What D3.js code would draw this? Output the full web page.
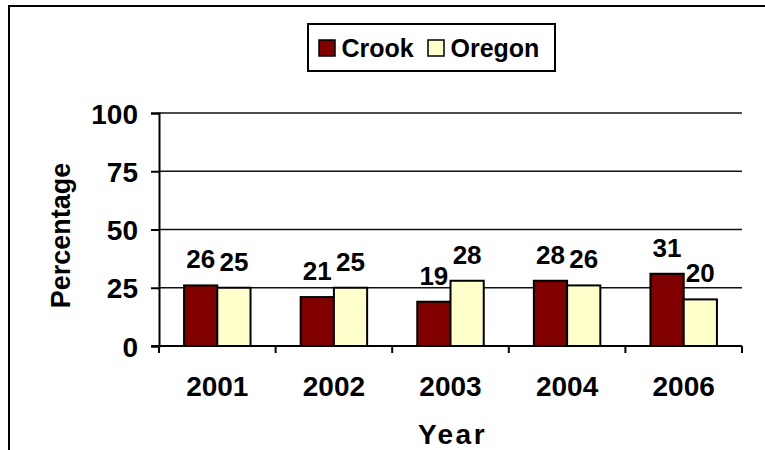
<!DOCTYPE html>
<html>
<head>
<meta charset="utf-8">
<script src="https://cdn.jsdelivr.net/npm/d3@7"></script>
<style>
  body { margin: 0; background: #fff; }
  svg text { font-family: "Liberation Sans", Arial, sans-serif; font-weight: bold; fill: #000; }
</style>
</head>
<body>
<div class="chart"></div>
<script>
const years = ["2001", "2002", "2003", "2004", "2006"];
const series = ["Crook", "Oregon"];
const crook = [26, 21, 19, 28, 31];
const oregon = [25, 25, 28, 26, 20];
const yTicks = [0, 25, 50, 75, 100];
const colors = ["#800000", "#ffffcc"];

const width = 765;
const height = 450;
const plotLeft = 159, plotRight = 742, plotTop = 113, plotBottom = 346;

const svg = d3.select(".chart")
  .append("svg")
  .attr("width", width)
  .attr("height", height);

// outer frame (top and left edges visible)
svg.append("path")
  .attr("d", "M9,450 V6 H765")
  .attr("fill", "none")
  .attr("stroke", "#000")
  .attr("stroke-width", 2);

const x0 = d3.scaleBand()
  .domain(years)
  .range([plotLeft, plotRight])
  .paddingInner(0.43)
  .paddingOuter(0.215);

const x1 = d3.scaleBand()
  .domain(series)
  .range([0, x0.bandwidth()]);

const y = d3.scaleLinear()
  .domain([0, 100])
  .range([plotBottom, plotTop]);

// gridlines
svg.selectAll("line.grid")
  .data(yTicks.filter(d => d > 0))
  .enter()
  .append("line")
  .attr("class", "grid")
  .attr("x1", plotLeft)
  .attr("x2", plotRight)
  .attr("y1", d => y(d))
  .attr("y2", d => y(d))
  .attr("stroke", "#111")
  .attr("stroke-width", 1.6);

// y axis
const yAxis = svg.append("g")
  .attr("transform", `translate(${plotLeft},0)`)
  .call(d3.axisLeft(y).tickValues(yTicks).tickSize(8).tickPadding(13));
yAxis.select(".domain").attr("stroke", "#000").attr("stroke-width", 2);
yAxis.selectAll(".tick line").attr("stroke", "#000").attr("stroke-width", 2);
yAxis.selectAll(".tick text")
  .style("font-size", "28px")
  .style("font-family", "Liberation Sans, Arial, sans-serif")
  .style("font-weight", "bold")
  .attr("fill", "#000")
  .attr("dy", "0.36em");

// x axis line and category boundary ticks
const step = x0.step();
const bounds = d3.range(years.length + 1).map(i => plotLeft + i * step);
svg.append("line")
  .attr("x1", plotLeft - 8)
  .attr("x2", plotRight)
  .attr("y1", plotBottom)
  .attr("y2", plotBottom)
  .attr("stroke", "#000")
  .attr("stroke-width", 2);
svg.selectAll("line.xtick")
  .data(bounds)
  .enter()
  .append("line")
  .attr("class", "xtick")
  .attr("x1", d => d)
  .attr("x2", d => d)
  .attr("y1", plotBottom)
  .attr("y2", plotBottom + 7)
  .attr("stroke", "#000")
  .attr("stroke-width", 2);

svg.selectAll("text.xlab")
  .data(years)
  .enter()
  .append("text")
  .attr("class", "xlab")
  .attr("x", d => x0(d) + x0.bandwidth() / 2)
  .attr("y", 396)
  .attr("text-anchor", "middle")
  .style("font-size", "28px")
  .text(d => d);

// bars
const rows = years.map((yr, i) => ({ year: yr, values: [crook[i], oregon[i]] }));

const groups = svg.selectAll("g.group")
  .data(rows)
  .enter()
  .append("g")
  .attr("class", "group")
  .attr("transform", d => `translate(${x0(d.year)},0)`);

groups.selectAll("rect")
  .data(d => d.values.map((v, j) => ({ key: series[j], value: v, j: j })))
  .enter()
  .append("rect")
  .attr("x", d => x1(d.key))
  .attr("y", d => y(d.value))
  .attr("width", x1.bandwidth())
  .attr("height", d => plotBottom - y(d.value))
  .attr("fill", d => colors[d.j])
  .attr("stroke", "#000")
  .attr("stroke-width", 2);

groups.selectAll("text")
  .data(d => d.values.map((v, j) => ({ key: series[j], value: v })))
  .enter()
  .append("text")
  .attr("x", d => x1(d.key) + x1.bandwidth() / 2)
  .attr("y", d => y(d.value) - 17)
  .attr("text-anchor", "middle")
  .style("font-size", "26px")
  .text(d => d.value);

// axis titles
svg.append("text")
  .attr("transform", `translate(70,${(plotTop + plotBottom) / 2 + 6}) rotate(-90)`)
  .attr("text-anchor", "middle")
  .style("font-size", "27px")
  .text("Percentage");

svg.append("text")
  .attr("x", (plotLeft + plotRight) / 2 + 2)
  .attr("y", 444)
  .attr("text-anchor", "middle")
  .style("font-size", "28px")
  .style("letter-spacing", "2.5px")
  .text("Year");

// legend
const legend = svg.append("g");
legend.append("rect")
  .attr("x", 308)
  .attr("y", 24)
  .attr("width", 247)
  .attr("height", 47)
  .attr("fill", "#fff")
  .attr("stroke", "#000")
  .attr("stroke-width", 2);

const legendX = [319, 428];
legend.selectAll("rect.sw")
  .data(series)
  .enter()
  .append("rect")
  .attr("class", "sw")
  .attr("x", (d, i) => legendX[i])
  .attr("y", 40)
  .attr("width", 16)
  .attr("height", 16)
  .attr("fill", (d, i) => colors[i])
  .attr("stroke", "#000")
  .attr("stroke-width", 1.5);

legend.selectAll("text")
  .data(series)
  .enter()
  .append("text")
  .attr("x", (d, i) => legendX[i] + 22.5)
  .attr("y", 57)
  .style("font-size", "25px")
  .text(d => d);
</script>
</body>
</html>
